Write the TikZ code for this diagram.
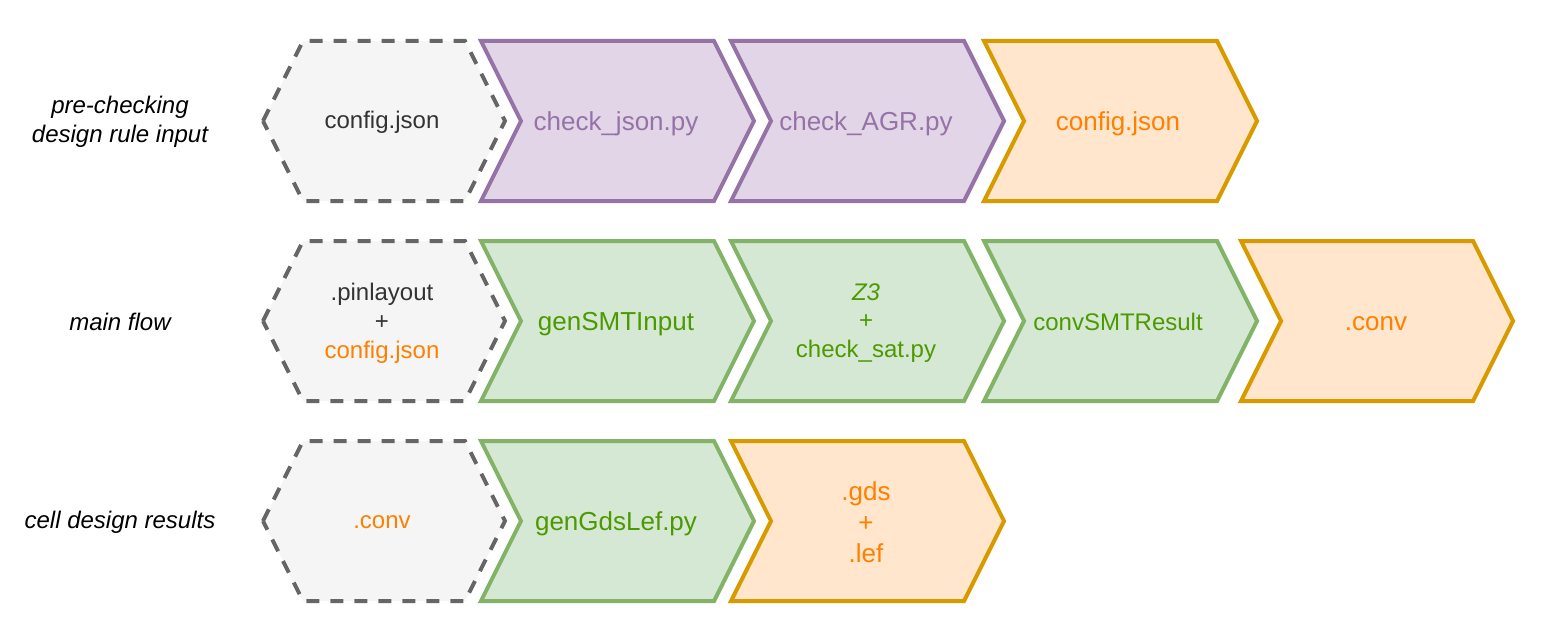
\documentclass[tikz,border=0pt]{standalone}
\usepackage{fontspec}
\setmainfont{Liberation Sans}

\definecolor{hexfill}{HTML}{F5F5F5}
\definecolor{hexdraw}{HTML}{666666}
\definecolor{hextext}{HTML}{333333}
\definecolor{purplefill}{HTML}{E1D5E7}
\definecolor{purpledraw}{HTML}{9673A6}
\definecolor{greenfill}{HTML}{D5E8D4}
\definecolor{greendraw}{HTML}{82B366}
\definecolor{greentext}{HTML}{4D9900}
\definecolor{orangefill}{HTML}{FFE6CC}
\definecolor{orangedraw}{HTML}{D79B00}
\definecolor{orangetext}{HTML}{FF8000}

\tikzset{
	hexbox/.style={fill=hexfill, draw=hexdraw, line width=2pt, dash pattern=on 6.5pt off 5.5pt},
	purplebox/.style={fill=purplefill, draw=purpledraw, line width=2pt},
	greenbox/.style={fill=greenfill, draw=greendraw, line width=2pt},
	orangebox/.style={fill=orangefill, draw=orangedraw, line width=2pt},
	small/.style={align=center, font=\fontsize{12}{14.4}\selectfont},
	big/.style={align=center, font=\fontsize{13}{15.6}\selectfont},
	rowlabel/.style={align=center, font=\fontsize{12}{14.4}\selectfont\itshape}
}

\begin{document}
\begin{tikzpicture}[x=0.5pt, y=-0.5pt]
	\useasboundingbox (0,0) rectangle (1562,642);
	
	% row 1
	\draw[hexbox] (263,121) -- (303,41) -- (465,41) -- (505,121) -- (465,201) -- (303,201) -- cycle;
	\draw[purplebox] (481,41) -- (714,41) -- (754,121) -- (714,201) -- (481,201) -- (521,121) -- cycle;
	\draw[purplebox] (731,41) -- (964,41) -- (1004,121) -- (964,201) -- (731,201) -- (771,121) -- cycle;
	\draw[orangebox] (984,41) -- (1217,41) -- (1257,121) -- (1217,201) -- (984,201) -- (1024,121) -- cycle;
	
	\node[rowlabel] (precheck) at (120,122) {pre-checking\\design rule input};
	\node[small, text=hextext] (cfgin) at (382,122) {config.json};
	\node[big, text=purpledraw] (chkjson) at (616,124) {check\_json.py};
	\node[big, text=purpledraw] (chkagr) at (866,124) {check\_AGR.py};
	\node[big, text=orangetext] (cfgout) at (1118,124) {config.json};
	
	% row 2
	\draw[hexbox] (263,321) -- (303,241) -- (465,241) -- (505,321) -- (465,401) -- (303,401) -- cycle;
	\draw[greenbox] (481,241) -- (714,241) -- (754,321) -- (714,401) -- (481,401) -- (521,321) -- cycle;
	\draw[greenbox] (731,241) -- (964,241) -- (1004,321) -- (964,401) -- (731,401) -- (771,321) -- cycle;
	\draw[greenbox] (984,241) -- (1217,241) -- (1257,321) -- (1217,401) -- (984,401) -- (1024,321) -- cycle;
	\draw[orangebox] (1241,241) -- (1473,241) -- (1513,321) -- (1473,401) -- (1241,401) -- (1281,321) -- cycle;
	
	\node[rowlabel] (mainflow) at (120,322) {main flow};
	\node[small, text=hextext] (pinin) at (382,323) {.pinlayout\\+\\{\color{orangetext}config.json}};
	\node[big, text=greentext] (gensmt) at (616,324) {genSMTInput};
	\node[small, text=greentext] (zthree) at (866,323) {{\itshape Z3}\\+\\check\_sat.py};
	\node[small, text=greentext] (convsmt) at (1118,322) {convSMTResult};
	\node[big, text=orangetext] (convout) at (1376,324) {.conv};
	
	% row 3
	\draw[hexbox] (263,521) -- (303,441) -- (465,441) -- (505,521) -- (465,601) -- (303,601) -- cycle;
	\draw[greenbox] (481,441) -- (714,441) -- (754,521) -- (714,601) -- (481,601) -- (521,521) -- cycle;
	\draw[orangebox] (731,441) -- (964,441) -- (1004,521) -- (964,601) -- (731,601) -- (771,521) -- cycle;
	
	\node[rowlabel] (cellres) at (120,522) {cell design results};
	\node[small, text=orangetext] (convin) at (382,522) {.conv};
	\node[big, text=greentext] (gengds) at (616,524) {genGdsLef.py};
	\node[big, text=orangetext] (gdslef) at (866,522) {.gds\\+\\.lef};
	
\end{tikzpicture}
\end{document}
